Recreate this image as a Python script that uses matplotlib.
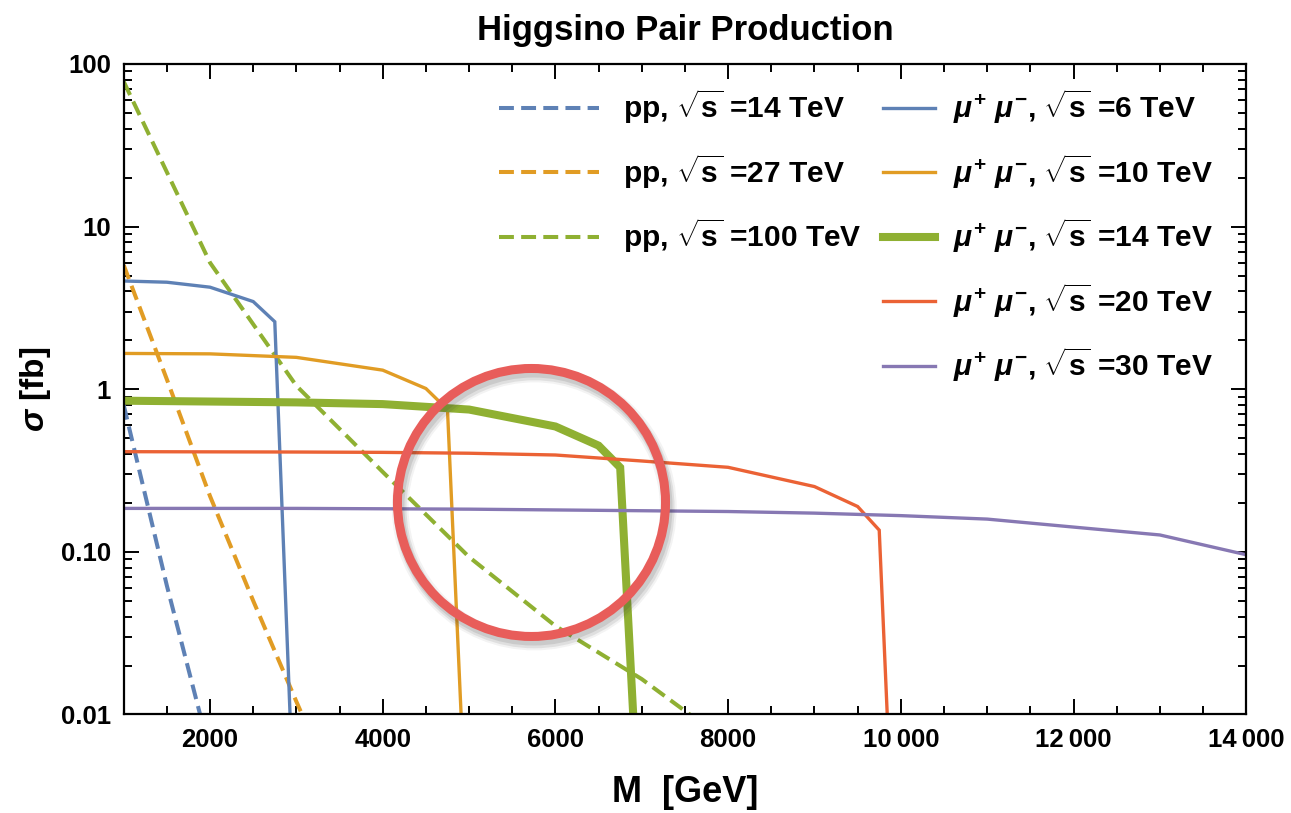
import matplotlib
matplotlib.use("Agg")
import matplotlib.pyplot as plt
import matplotlib.patheffects as pe
from matplotlib.patches import Ellipse
from matplotlib.ticker import FixedLocator, LogLocator, MultipleLocator, NullFormatter

# Mathematica default palette
BLUE = "#5E81B5"
ORANGE = "#E19C24"
GREEN = "#8FB032"
RED = "#EB6235"
PURPLE = "#8778B3"
RING = "#E85D5A"

plt.rcParams.update({
    "font.family": ["Liberation Sans", "DejaVu Sans"],
    "font.weight": "bold",
    "axes.titleweight": "bold",
    "axes.labelweight": "bold",
    "mathtext.fontset": "custom",
    "mathtext.rm": "Liberation Sans:bold",
    "mathtext.bf": "Liberation Sans:bold",
    "mathtext.it": "Liberation Sans:italic",
    "axes.linewidth": 1.6,
})

# --- cross sections (M in GeV, sigma in fb) ---
pp14_m = [1000, 1500, 2000]
pp14_s = [0.80, 0.062, 0.0058]

pp27_m = [1000, 1500, 2000, 2500, 3000, 3500]
pp27_s = [5.8, 1.15, 0.22, 0.05, 0.012, 0.003]

pp100_m = [1000, 2000, 3000, 4000, 5000, 6000, 7000, 8000]
pp100_s = [78, 6.0, 1.05, 0.31, 0.093, 0.035, 0.0165, 0.0067]

mu6_m = [1000, 1500, 2000, 2500, 2750, 3000]
mu6_s = [4.63, 4.55, 4.24, 3.46, 2.6, 0.001]

mu10_m = [1000, 2000, 3000, 4000, 4500, 4750, 5000]
mu10_s = [1.66, 1.65, 1.57, 1.31, 1.01, 0.75, 0.0008]

mu14_m = [1000, 2000, 3000, 4000, 5000, 6000, 6500, 6750, 7000]
mu14_s = [0.85, 0.84, 0.83, 0.81, 0.75, 0.59, 0.45, 0.33, 0.001]

mu20_m = [1000, 2000, 3000, 4000, 5000, 6000, 7000, 8000, 9000, 9500, 9750, 10000]
mu20_s = [0.413, 0.412, 0.411, 0.409, 0.404, 0.394, 0.362, 0.331, 0.252, 0.19, 0.136, 0.00012]

mu30_m = [1000, 2000, 3000, 4000, 5000, 6000, 7000, 8000, 9000, 10000, 11000, 12000, 13000, 14000]
mu30_s = [0.185, 0.185, 0.185, 0.184, 0.183, 0.181, 0.179, 0.177, 0.173, 0.167, 0.159, 0.142, 0.127, 0.096]

pp_labels = ["14", "27", "100"]
mu_labels = ["6", "10", "14", "20", "30"]

x_ticks = [2000, 4000, 6000, 8000, 10000, 12000, 14000]
x_ticklabels = ["2000", "4000", "6000", "8000", "10\u2009000", "12\u2009000", "14\u2009000"]
y_ticks = [0.01, 0.1, 1, 10, 100]
y_ticklabels = ["0.01", "0.10", "1", "10", "100"]

fig = plt.figure(figsize=(12.91, 8.13), dpi=100)
ax = fig.add_axes([0.0958, 0.1212, 0.8695, 0.8001])

DASH = (3.7, 1.8)
LW_DASH = 2.9
LW = 2.4

pp_lines = []
for m, s, c in [(pp14_m, pp14_s, BLUE), (pp27_m, pp27_s, ORANGE), (pp100_m, pp100_s, GREEN)]:
    ln, = ax.plot(m, s, color=c, lw=LW_DASH, ls=(0, DASH))
    pp_lines.append(ln)

mu_lines = []
for m, s, c, w in [(mu6_m, mu6_s, BLUE, LW), (mu10_m, mu10_s, ORANGE, LW),
                   (mu14_m, mu14_s, GREEN, 5.8), (mu20_m, mu20_s, RED, LW),
                   (mu30_m, mu30_s, PURPLE, LW)]:
    ln, = ax.plot(m, s, color=c, lw=w, solid_joinstyle="miter")
    mu_lines.append(ln)

ax.set_yscale("log")
ax.set_xlim(1000, 14000)
ax.set_ylim(0.01, 100)

ax.xaxis.set_major_locator(FixedLocator(x_ticks))
ax.set_xticklabels(x_ticklabels)
ax.xaxis.set_minor_locator(MultipleLocator(500))
ax.yaxis.set_major_locator(FixedLocator(y_ticks))
ax.set_yticklabels(y_ticklabels)
ax.yaxis.set_minor_locator(LogLocator(base=10, subs=range(2, 10)))
ax.yaxis.set_minor_formatter(NullFormatter())

ax.tick_params(which="both", direction="in", top=True, right=True, width=1.4,
               labelsize=18.5)
ax.tick_params(axis="x", pad=10)
ax.tick_params(axis="y", pad=9)
ax.tick_params(which="major", length=11)
ax.tick_params(which="minor", length=6)

ax.set_xlabel("M  [GeV]", fontsize=26, labelpad=16)
ax.set_ylabel(r"$\sigma$ [fb]", fontsize=24, labelpad=6)
ax.set_title("Higgsino Pair Production", fontsize=25, pad=17)

# legends: pp column (dashed) and mu+mu- column (solid)
leg1 = ax.legend(pp_lines, [r"pp, $\sqrt{\mathbf{s}}$ =%s TeV" % e for e in pp_labels],
                 loc="upper left", bbox_to_anchor=(0.324, 0.982), frameon=False,
                 fontsize=21.5, handlelength=3.35, handletextpad=0.8,
                 labelspacing=0.86, borderaxespad=0)
ax.add_artist(leg1)
ax.legend(mu_lines, [r"$\mu^{+}\ \mu^{-}$, $\sqrt{\mathbf{s}}$ =%s TeV" % e for e in mu_labels],
          loc="upper left", bbox_to_anchor=(0.6658, 0.982), frameon=False,
          fontsize=21.5, handlelength=1.74, handletextpad=0.6,
          labelspacing=0.86, borderaxespad=0)

# highlight ring with a soft drop shadow
ring = Ellipse((0.3633, 0.3259), width=0.2388, height=0.412, transform=ax.transAxes,
               fill=False, lw=6.5, ec=RING, zorder=5)
ring.set_path_effects([
    pe.Stroke(offset=(2, -4), linewidth=12, foreground="0.2", alpha=0.06),
    pe.Stroke(offset=(2, -4), linewidth=9, foreground="0.2", alpha=0.10),
    pe.Stroke(offset=(1.5, -3), linewidth=7, foreground="0.2", alpha=0.12),
    pe.Normal(),
])
ax.add_patch(ring)

fig.savefig("out.png", dpi=100)
